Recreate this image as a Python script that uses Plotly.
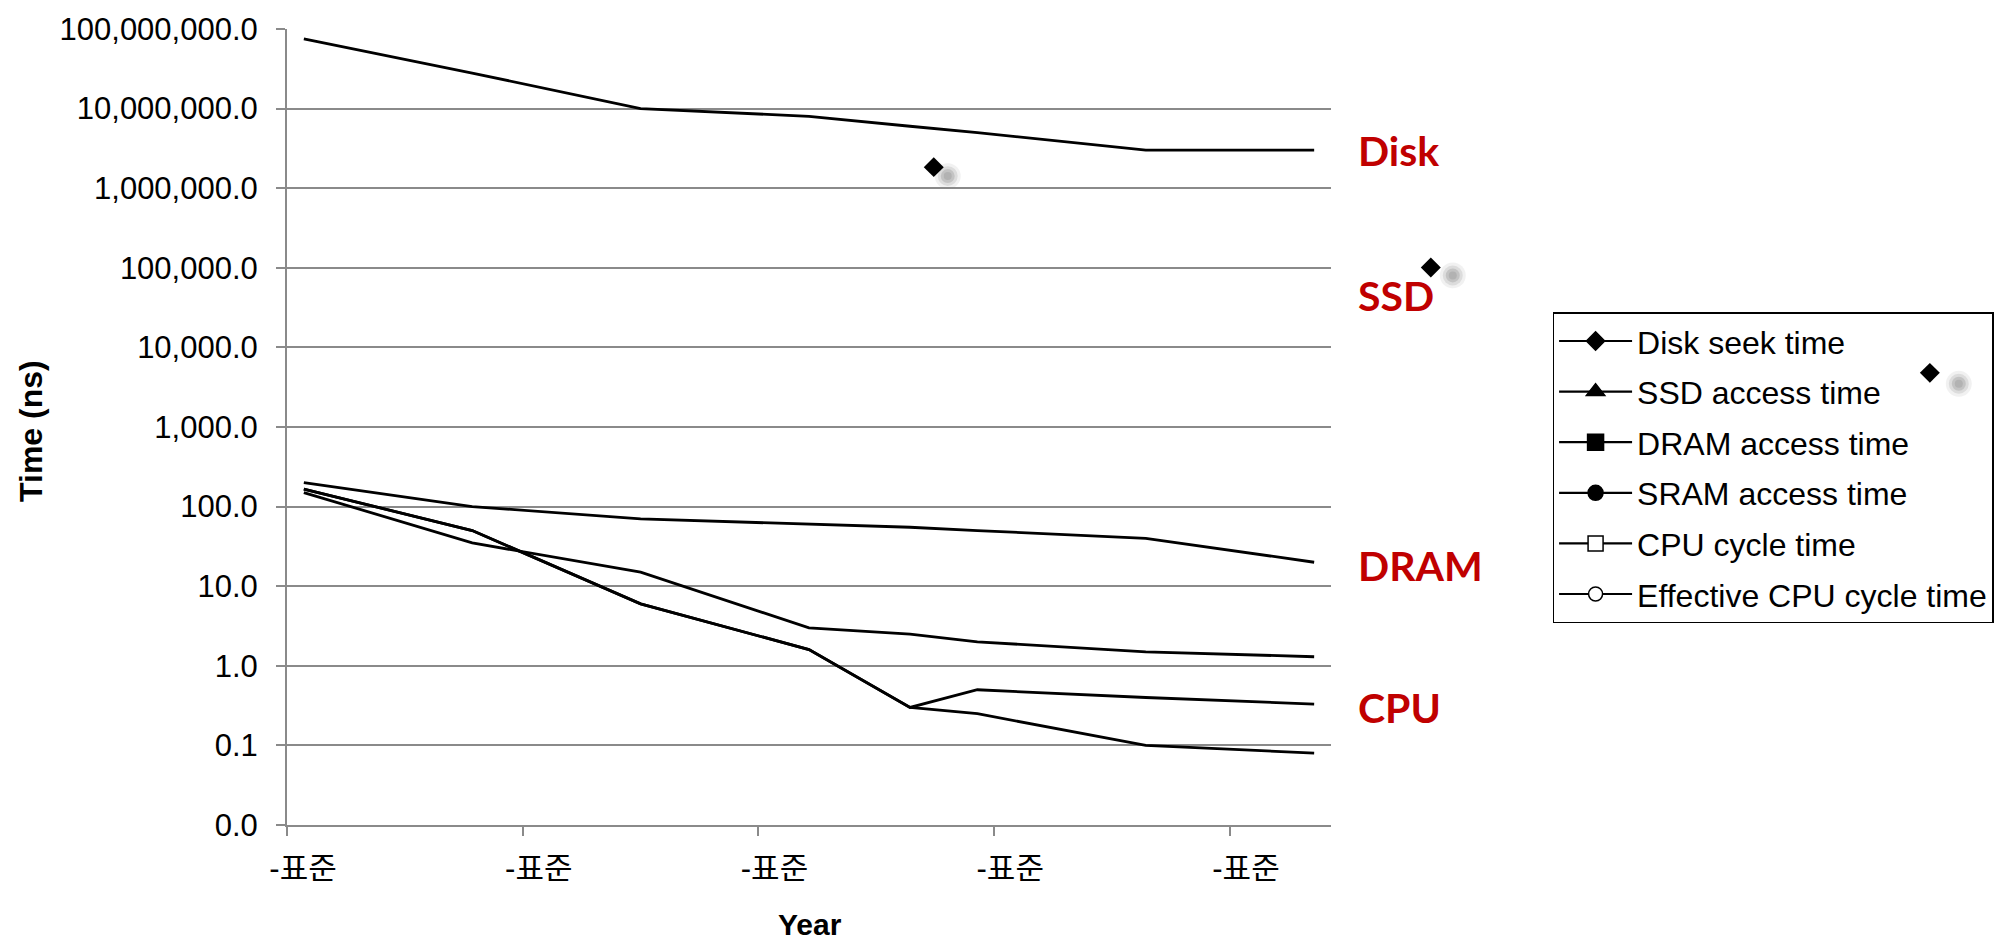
import plotly.graph_objects as go

# ---------------- data ----------------
years = [1985, 1990, 1995, 2000, 2003, 2005, 2010, 2015]
disk_seek_ns = [75000000, 28000000, 10000000, 8000000, 6000000, 5000000, 3000000, 3000000]
dram_access_ns = [200, 100, 70, 60, 55, 50, 40, 20]
sram_access_ns = [150, 35, 15, 3, 2.5, 2, 1.5, 1.3]
cpu_cycle_ns = [166, 50, 6, 1.6, 0.30, 0.50, 0.40, 0.33]
eff_cpu_cycle_ns = [166, 50, 6, 1.6, 0.30, 0.25, 0.10, 0.08]

series_names = ["Disk seek time", "SSD access time", "DRAM access time",
                "SRAM access time", "CPU cycle time", "Effective CPU cycle time"]
series_values = [disk_seek_ns, None, dram_access_ns, sram_access_ns,
                 cpu_cycle_ns, eff_cpu_cycle_ns]
legend_symbols = ["diamond", "triangle-up", "square", "circle", "square", "circle"]
legend_fills = ["black", "black", "black", "black", "white", "white"]
legend_sizes = [14, 16, 16, 15, 15, 14]

y_tick_vals = [0.01, 0.1, 1, 10, 100, 1000, 10000, 100000, 1000000, 10000000, 100000000]
y_tick_text = [f"{v:,.1f}" for v in y_tick_vals]
x_tick_vals = [1984.5, 1991.5, 1998.5, 2005.5, 2012.5]
x_tick_text = ["-표준"] * len(x_tick_vals)
x_range = [1984.5, 2015.5]

side_labels = ["Disk", "SSD", "DRAM", "CPU"]

# ---------------- layout geometry (pixels) ----------------
W, H = 2005, 941
PL, PR, PT, PB = 287, 1333, 24, 825


def px(x):
    return (x - PL) / (PR - PL)


def py(y):
    return (PB - y) / (PB - PT)


FONT = "Liberation Sans, Arial, Noto Sans CJK KR, sans-serif"
GRID = "#8a8a8a"
RED = "#C00000"

fig = go.Figure()

for name, vals in zip(series_names, series_values):
    if vals is None:
        continue
    fig.add_trace(go.Scatter(x=years, y=vals, mode="lines", name=name,
                             line=dict(color="black", width=2.8),
                             showlegend=False, hoverinfo="x+y+name"))

for i, name in enumerate(series_names):
    fig.add_trace(go.Scatter(
        x=[None], y=[None], mode="lines+markers", name=name,
        legendgroup=f"g{i}",
        line=dict(color="black", width=2.2),
        marker=dict(symbol=legend_symbols[i], size=legend_sizes[i],
                    color=legend_fills[i], line=dict(color="black", width=1.5)),
    ))

# decorative diamonds with soft shadows (pixel positions)
decor = [((935, 163), (949, 172)), ((1433, 264), (1455, 272)), ((1933, 370), (1962, 381))]
shapes = []
for (cx, cy), (sx, sy) in decor:
    for r, op in [(13, 0.12), (10, 0.2), (7, 0.3), (4, 0.3)]:
        shapes.append(dict(type="circle", xref="paper", yref="paper",
                           x0=px(sx - r), x1=px(sx + r), y0=py(sy + r), y1=py(sy - r),
                           fillcolor="#8c8c8c", opacity=op, line=dict(width=0),
                           layer="above"))
    hs = 10
    path = (f"M{px(cx)},{py(cy - hs)} L{px(cx + hs)},{py(cy)} "
            f"L{px(cx)},{py(cy + hs)} L{px(cx - hs)},{py(cy)} Z")
    shapes.append(dict(type="path", xref="paper", yref="paper", path=path,
                       fillcolor="black", line=dict(width=0), layer="above"))

annotations = []
label_y = [146, 292, 564, 707]
for txt, ly in zip(side_labels, label_y):
    annotations.append(dict(text=f"<b>{txt}</b>", xref="paper", yref="paper",
                            x=px(1358), y=py(ly), xanchor="left", yanchor="middle",
                            showarrow=False,
                            font=dict(family="Lato, Open Sans, sans-serif", size=41, color=RED)))
annotations.append(dict(text="<b>Time (ns)</b>", xref="paper", yref="paper",
                        x=px(31), y=py(428), xanchor="center", yanchor="middle",
                        textangle=-90, showarrow=False,
                        font=dict(family=FONT, size=32, color="black")))
annotations.append(dict(text="<b>Year</b>", xref="paper", yref="paper",
                        x=px(811), y=py(925), xanchor="center", yanchor="middle",
                        showarrow=False,
                        font=dict(family=FONT, size=30, color="black")))

fig.update_layout(
    width=W, height=H,
    margin=dict(l=PL, r=W - PR, t=PT, b=H - PB, pad=0),
    paper_bgcolor="white", plot_bgcolor="white",
    font=dict(family=FONT, size=31, color="black"),
    showlegend=True,
    legend=dict(x=px(1555), y=py(309), xanchor="left", yanchor="top",
                bordercolor="black", borderwidth=1.5, bgcolor="rgba(0,0,0,0)",
                font=dict(family=FONT, size=32, color="black"),
                tracegroupgap=6, itemwidth=73),
    shapes=shapes,
    annotations=annotations,
    xaxis=dict(range=x_range, tickvals=x_tick_vals, ticktext=x_tick_text,
               showgrid=False, showline=True, linecolor=GRID, linewidth=2,
               ticks="outside", ticklen=9, tickcolor=GRID, tickwidth=2,
               ticklabelshift=16, ticklabelstandoff=6,
               tickfont=dict(family=FONT, size=31), zeroline=False),
    yaxis=dict(type="log", range=[-2, 8], tickvals=y_tick_vals, ticktext=y_tick_text,
               showgrid=True, gridcolor=GRID, gridwidth=2,
               showline=True, linecolor=GRID, linewidth=2,
               ticks="outside", ticklen=9, tickcolor=GRID, tickwidth=2,
               ticklabelstandoff=12,
               tickfont=dict(family=FONT, size=31), zeroline=False),
)

fig.write_html("out.html", config={"displayModeBar": False},
               post_script="document.body.style.margin='0';")
